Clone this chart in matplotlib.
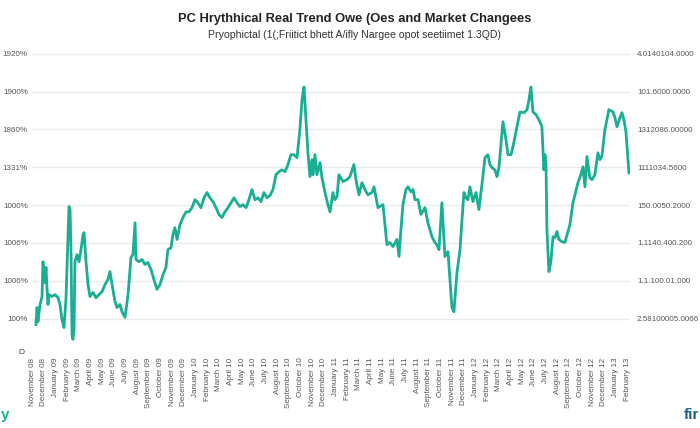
import matplotlib
matplotlib.use("Agg")
import matplotlib.pyplot as plt

# ---- data ----
months = [0.34, 0.43, 0.51, 0.69, 0.86, 0.94, 1.03, 1.11, 1.20, 1.29, 1.37, 1.46, 1.71, 1.97, 2.23, 2.40,
          2.57, 2.74, 2.91, 3.08, 3.17, 3.26, 3.34, 3.43, 3.51, 3.60, 3.68, 3.86, 4.03, 4.20, 4.37, 4.46,
          4.63, 4.80, 4.97, 5.23, 5.48, 5.74, 6.00, 6.26, 6.51, 6.68, 6.86, 7.11, 7.28, 7.54, 7.71, 7.97,
          8.23, 8.48, 8.65, 8.83, 8.91, 9.17, 9.43, 9.68, 9.94, 10.20, 10.45, 10.71, 10.97, 11.23, 11.48,
          11.65, 11.91, 12.08, 12.25, 12.43, 12.68, 12.94, 13.20, 13.45, 13.71, 13.97, 14.22, 14.48, 14.74,
          15.00, 15.25, 15.51, 15.77, 16.02, 16.28, 16.54, 16.80, 17.05, 17.31, 17.57, 17.82, 18.08, 18.34,
          18.59, 18.85, 19.11, 19.37, 19.62, 19.88, 20.14, 20.39, 20.65, 20.91, 21.17, 21.42, 21.68, 21.94,
          22.19, 22.45, 22.71, 22.96, 23.14, 23.31, 23.48, 23.65, 23.82, 23.99, 24.08, 24.25, 24.42, 24.68,
          24.85, 25.11, 25.36, 25.54, 25.79, 25.96, 26.14, 26.31, 26.65, 26.99, 27.25, 27.59, 27.76, 28.02,
          28.28, 28.53, 28.79, 29.13, 29.31, 29.65, 30.08, 30.25, 30.42, 30.68, 30.93, 31.28, 31.45, 31.62,
          31.79, 32.05, 32.22, 32.48, 32.65, 32.82, 33.08, 33.33, 33.68, 33.93, 34.10, 34.28, 34.53, 34.70,
          34.88, 35.13, 35.39, 35.65, 35.82, 35.99, 36.16, 36.42, 36.68, 36.85, 37.02, 37.19, 37.36, 37.53,
          37.79, 38.05, 38.30, 38.56, 38.82, 39.07, 39.25, 39.42, 39.67, 39.85, 40.02, 40.19, 40.36, 40.62,
          40.79, 41.05, 41.22, 41.56, 41.82, 42.16, 42.42, 42.59, 42.76, 42.93, 43.19, 43.45, 43.70, 43.87,
          43.96, 44.05, 44.13, 44.30, 44.47, 44.65, 44.82, 44.99, 45.16, 45.42, 45.67, 45.93, 46.10, 46.36,
          46.53, 46.79, 47.04, 47.22, 47.39, 47.56, 47.81, 47.99, 48.24, 48.50, 48.67, 48.84, 49.10, 49.27,
          49.44, 49.79, 49.96, 50.13, 50.39, 50.56, 50.73, 50.90, 51.16]

values = [98.4, 102.9, 99.2, 103.7, 105.8, 115.0, 111.6, 109.5, 113.5, 107.7, 103.7, 106.3, 105.8, 106.3, 105.5, 103.7,
          99.7, 97.6, 105.0, 120.9, 129.6, 128.8, 118.2, 95.8, 94.5, 97.1, 115.0, 116.9, 115.0, 118.2, 122.2, 122.7,
          115.0, 109.0, 105.8, 106.9, 105.5, 106.3, 107.1, 109.0, 110.3, 112.4, 109.0, 104.5, 102.9, 103.7, 101.8, 100.3,
          106.3, 116.1, 116.9, 125.3, 115.6, 115.0, 115.6, 114.3, 114.8, 112.9, 110.3, 107.7, 109.0, 111.6, 113.5,
          118.2, 118.7, 122.2, 124.0, 120.9, 124.8, 126.7, 128.2, 128.2, 129.3, 131.4, 130.6, 129.3, 131.9,
          133.3, 131.9, 130.9, 129.3, 127.5, 126.7, 128.2, 129.3, 130.6, 131.9, 130.6, 129.6, 130.1,
          129.3, 131.4, 134.1, 131.4, 131.9, 130.9, 133.3, 131.9, 132.5, 134.1, 138.0, 138.8, 139.3, 138.8,
          140.7, 143.3, 143.3, 142.5, 149.9, 157.8, 161.2, 152.5, 143.8, 137.5, 142.0, 138.0, 143.3, 138.0,
          141.2, 137.2, 133.3, 130.1, 128.2, 133.3, 131.4, 132.2, 138.0, 136.2, 136.7, 137.5, 140.7, 136.7,
          132.7, 135.9, 134.1, 132.7, 133.3, 134.8, 129.3, 130.1, 124.8, 119.5, 120.1, 119.0, 120.9, 116.4,
          123.5, 130.1, 134.1, 134.8, 133.5, 134.1, 131.4, 131.4, 127.5, 129.3, 125.3, 123.5, 121.6, 120.1,
          119.5, 118.2, 130.6, 116.4, 117.7, 110.3, 102.9, 101.8, 112.1, 118.2, 126.1, 133.3, 131.9, 131.4,
          134.8, 130.9, 133.3, 128.8, 135.4, 142.5, 143.3, 140.7, 139.9, 139.3, 137.5, 139.9, 145.9, 152.0,
          147.3, 143.3, 143.3, 145.4, 150.7, 154.6, 154.4, 155.2, 157.8, 161.2, 154.6, 153.9, 152.5, 150.7,
          139.3, 143.3, 141.0, 123.5, 112.4, 115.0, 121.6, 121.4, 123.0, 120.9, 120.3, 120.1, 123.0, 124.8,
          130.6, 132.7, 135.9, 138.0, 140.1, 134.8, 142.8, 137.2, 136.7, 138.0, 143.8, 142.0, 142.8, 149.9,
          152.5, 155.2, 154.6, 153.1, 150.7, 153.1, 154.4, 152.5, 149.4, 138.5]

y_ticks = [100, 110, 120, 130, 140, 150, 160, 170]
left_labels = ["100%", "1006%", "1006%", "1000%", "1331%", "1860%", "1900%", "1920%"]
right_labels = ["2.58100005.0066", "1.1.100.01.000", "1.1140.400.200", "150.0050.2000",
                "1111034.5600", "1312086.00000", "101.6000.0000", "4.0140104.0000"]

x_labels = ["November 08", "December 08", "January 09", "February 09", "March 09", "April 09",
            "May 09", "June 09", "July 09", "August 09", "September 09", "October 09",
            "November 09", "December 09", "January 10", "February 10", "March 10", "April 10",
            "May 10", "June 10", "July 10", "August 10", "September 10", "October 10",
            "November 10", "December 10", "January 11", "February 11", "March 11", "April 11",
            "May 11", "June 11", "July 11", "August 11", "September 11", "October 11",
            "November 11", "December 11", "January 12", "February 12", "March 12", "April 12",
            "May 12", "June 12", "July 12", "August 12", "September 12", "October 12",
            "November 12", "December 12", "January 13", "February 13"]

title = "PC Hrythhical Real Trend Owe (Oes and Market Changees"
subtitle = "Pryophictal (1(;Friitict bhett A/ifly Nargee opot seetiimet 1.3QD)"

# ---- figure ----
plt.rcParams['font.family'] = ['Liberation Sans', 'DejaVu Sans']
W, H = 700, 428
fig = plt.figure(figsize=(W / 100, H / 100), dpi=100)
ax = fig.add_axes([32 / W, 1 - 345 / H, (630 - 32) / W, (345 - 48) / H])

line_color = "#1aae93"
ax.plot(months, values, color=line_color, lw=2.0, solid_joinstyle="round", zorder=3)

ax.set_xlim(0, 51.25)
ax.set_ylim(93, 171.5)
ax.set_yticks(y_ticks)
ax.set_yticklabels(left_labels)
ax.set_xticks(range(len(x_labels)))
ax.set_xticklabels(x_labels, rotation=90, va="top", ha="center")
ax.grid(axis="y", color="#ebebeb", lw=1.0)
ax.grid(axis="x", visible=False)
for s in ax.spines.values():
    s.set_visible(False)
ax.tick_params(axis="y", length=0, pad=3, labelsize=5.8, labelcolor="#555555")
ax.tick_params(axis="x", length=0, pad=9, labelsize=5.8, labelcolor="#555555")

ax2 = ax.twinx()
ax2.set_ylim(ax.get_ylim())
ax2.set_yticks(y_ticks)
ax2.set_yticklabels(right_labels)
for s in ax2.spines.values():
    s.set_visible(False)
ax2.tick_params(axis="y", length=0, pad=5, labelsize=5.8, labelcolor="#555555")

fig.text(355 / W, 1 - 19 / H, title, ha="center", va="center", fontsize=9.3,
         fontweight="bold", color="#222222")
fig.text(355 / W, 1 - 35 / H, subtitle, ha="center", va="center", fontsize=7.6,
         color="#333333")
fig.text(18 / W, 1 - 352 / H, "D", ha="left", va="center", fontsize=6, color="#444444")
fig.text(1 / W, 1 - 415 / H, "y", ha="left", va="center", fontsize=11,
         fontweight="bold", color="#19b394")
fig.text(684 / W, 1 - 415 / H, "fir", ha="left", va="center", fontsize=11,
         fontweight="bold", color="#1b5f8f")

fig.savefig("out.png", dpi=100)
